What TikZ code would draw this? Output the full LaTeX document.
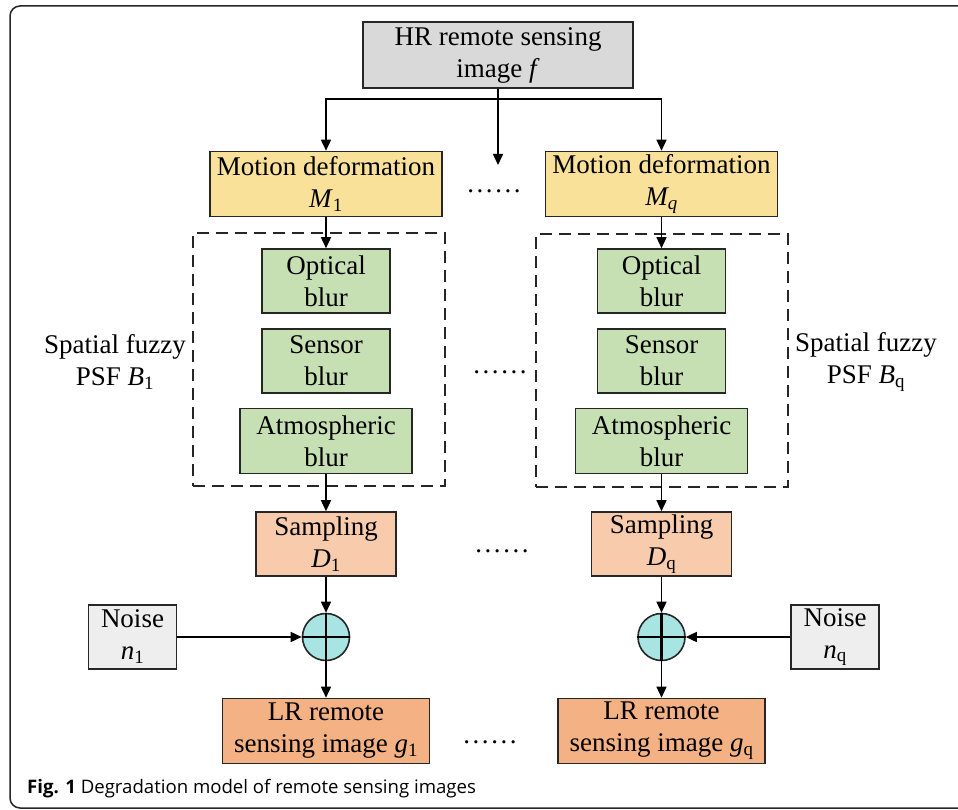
\documentclass[tikz,border=0pt]{standalone}
\usepackage{fontspec}
\setmainfont{Liberation Serif}
\newfontfamily\captionfont{Open Sans}
\usepackage{xcolor}
\usetikzlibrary{shapes.geometric, arrows.meta}

\definecolor{hrgray}{HTML}{D9D9D9}
\definecolor{motionyellow}{HTML}{F9E19A}
\definecolor{blurgreen}{HTML}{C6E0B4}
\definecolor{samplepeach}{HTML}{F8CBAD}
\definecolor{lrorange}{HTML}{F4B183}
\definecolor{addcyan}{HTML}{A8E4E2}
\definecolor{noisegray}{HTML}{EEEEEE}

\tikzset{
  box/.style={draw=black!85, line width=1.6pt, align=center, inner sep=0pt,
    font=\fontsize{27}{32}\selectfont},
  hrbox/.style={box, fill=hrgray, minimum width=270pt, minimum height=66pt},
  motionbox/.style={box, fill=motionyellow, minimum width=232pt, minimum height=65pt},
  blurbox/.style={box, fill=blurgreen, minimum width=128pt, minimum height=64pt},
  atmbox/.style={box, fill=blurgreen, minimum width=172pt, minimum height=65pt},
  samplebox/.style={box, fill=samplepeach, minimum width=140pt, minimum height=64pt},
  noisebox/.style={box, fill=noisegray, minimum width=88pt, minimum height=64pt},
  lrbox/.style={box, fill=lrorange, minimum width=207pt, minimum height=65pt},
  psfbox/.style={draw=black!85, line width=1.5pt, dash pattern=on 12pt off 7pt,
    minimum width=252pt, minimum height=253pt, inner sep=0pt},
  addnode/.style={circle, draw=black!85, line width=1.6pt, fill=addcyan,
    minimum size=47pt, inner sep=0pt},
  psflabel/.style={align=center, inner sep=0pt, font=\fontsize{27}{32}\selectfont},
  dots/.style={anchor=base, inner sep=0pt, font=\fontsize{27}{32}\selectfont},
  arr/.style={line width=1.5pt, -{Triangle[length=11pt,width=10pt]}},
}
\newcommand{\sixdots}{.\kern2.6pt.\kern2.6pt.\kern2.6pt.\kern2.6pt.\kern2.6pt.}

\begin{document}
\begin{tikzpicture}[x=1pt,y=-1pt]
    \useasboundingbox (0,0) rectangle (958,810);
    % frame and caption
    \draw[line width=1.5pt, black!85, rounded corners=10pt] (10,6) rectangle (975,808);
    \node[anchor=base west, inner sep=0pt, font=\captionfont\fontsize{18.6}{22}\selectfont] (caption)
        at (27,793) {\textbf{Fig. 1} Degradation model of remote sensing images};

    % input
    \node[hrbox] (hr) at (498,55) {HR remote sensing\\image \textit{f}};

    % branch 1
    \node[motionbox] (m1) at (326,184) {Motion deformation\\\textit{M}\textsubscript{1}};
    \node[psfbox] (psf1) at (319,359.5) {};
    \node[blurbox] (opt1) at (326,281) {Optical\\blur};
    \node[blurbox] (sen1) at (326,361) {Sensor\\blur};
    \node[atmbox] (atm1) at (326,441) {Atmospheric\\blur};
    \node[psflabel] (psf1lab) at (115,362) {Spatial fuzzy\\PSF \textit{B}\textsubscript{1}};
    \node[samplebox] (samp1) at (326,544) {Sampling\\\textit{D}\textsubscript{1}};
    \node[addnode] (add1) at (326,637) {};
    \node[noisebox] (noise1) at (132.5,637) {Noise\\\textit{n}\textsubscript{1}};
    \node[lrbox] (lr1) at (326,731) {LR remote\\sensing image \textit{g}\textsubscript{1}};

    % branch q
    \node[motionbox] (mq) at (661.5,184) {Motion deformation\\\textit{M\textsubscript{q}}};
    \node[psfbox] (psfq) at (662,360.5) {};
    \node[blurbox] (optq) at (661.5,281) {Optical\\blur};
    \node[blurbox] (senq) at (661.5,361) {Sensor\\blur};
    \node[atmbox] (atmq) at (661.5,441) {Atmospheric\\blur};
    \node[psflabel] (psfqlab) at (866,362) {Spatial fuzzy\\PSF \textit{B}\textsubscript{q}};
    \node[samplebox] (sampq) at (661.5,544) {Sampling\\\textit{D}\textsubscript{q}};
    \node[addnode] (addq) at (661.5,637) {};
    \node[noisebox] (noiseq) at (835,637) {Noise\\\textit{n}\textsubscript{q}};
    \node[lrbox] (lrq) at (661.5,731) {LR remote\\sensing image \textit{g}\textsubscript{q}};

    % dots between branches
    \node[dots] (dotsm) at (494,193) {\sixdots};
    \node[dots] (dotsb) at (500,373) {\sixdots};
    \node[dots] (dotss) at (502,552) {\sixdots};
    \node[dots] (dotsl) at (490,743) {\sixdots};

    % connectors
    \coordinate (split) at (498,99);
    \coordinate (midend) at (498,165);
    \draw[line width=1.5pt] (hr.south) -- (split);
    \draw[arr] (split) -| (m1.north);
    \draw[arr] (split) -| (mq.north);
    \draw[arr] (split) -- (midend);
    \draw[arr] (m1.south) -- (opt1.north);
    \draw[arr] (mq.south) -- (optq.north);
    \draw[arr] (atm1.south) -- (samp1.north);
    \draw[arr] (atmq.south) -- (sampq.north);
    \draw[arr] (samp1.south) -- (add1.north);
    \draw[arr] (sampq.south) -- (addq.north);
    \draw[arr] (noise1.east) -- (add1.west);
    \draw[arr] (noiseq.west) -- (addq.east);
    \draw[arr] (add1.south) -- (lr1.north);
    \draw[arr] (addq.south) -- (lrq.north);
    % plus signs
    \draw[line width=2.4pt] (add1.north) -- (add1.south) (add1.west) -- (add1.east);
    \draw[line width=2.4pt] (addq.north) -- (addq.south) (addq.west) -- (addq.east);
\end{tikzpicture}
\end{document}
